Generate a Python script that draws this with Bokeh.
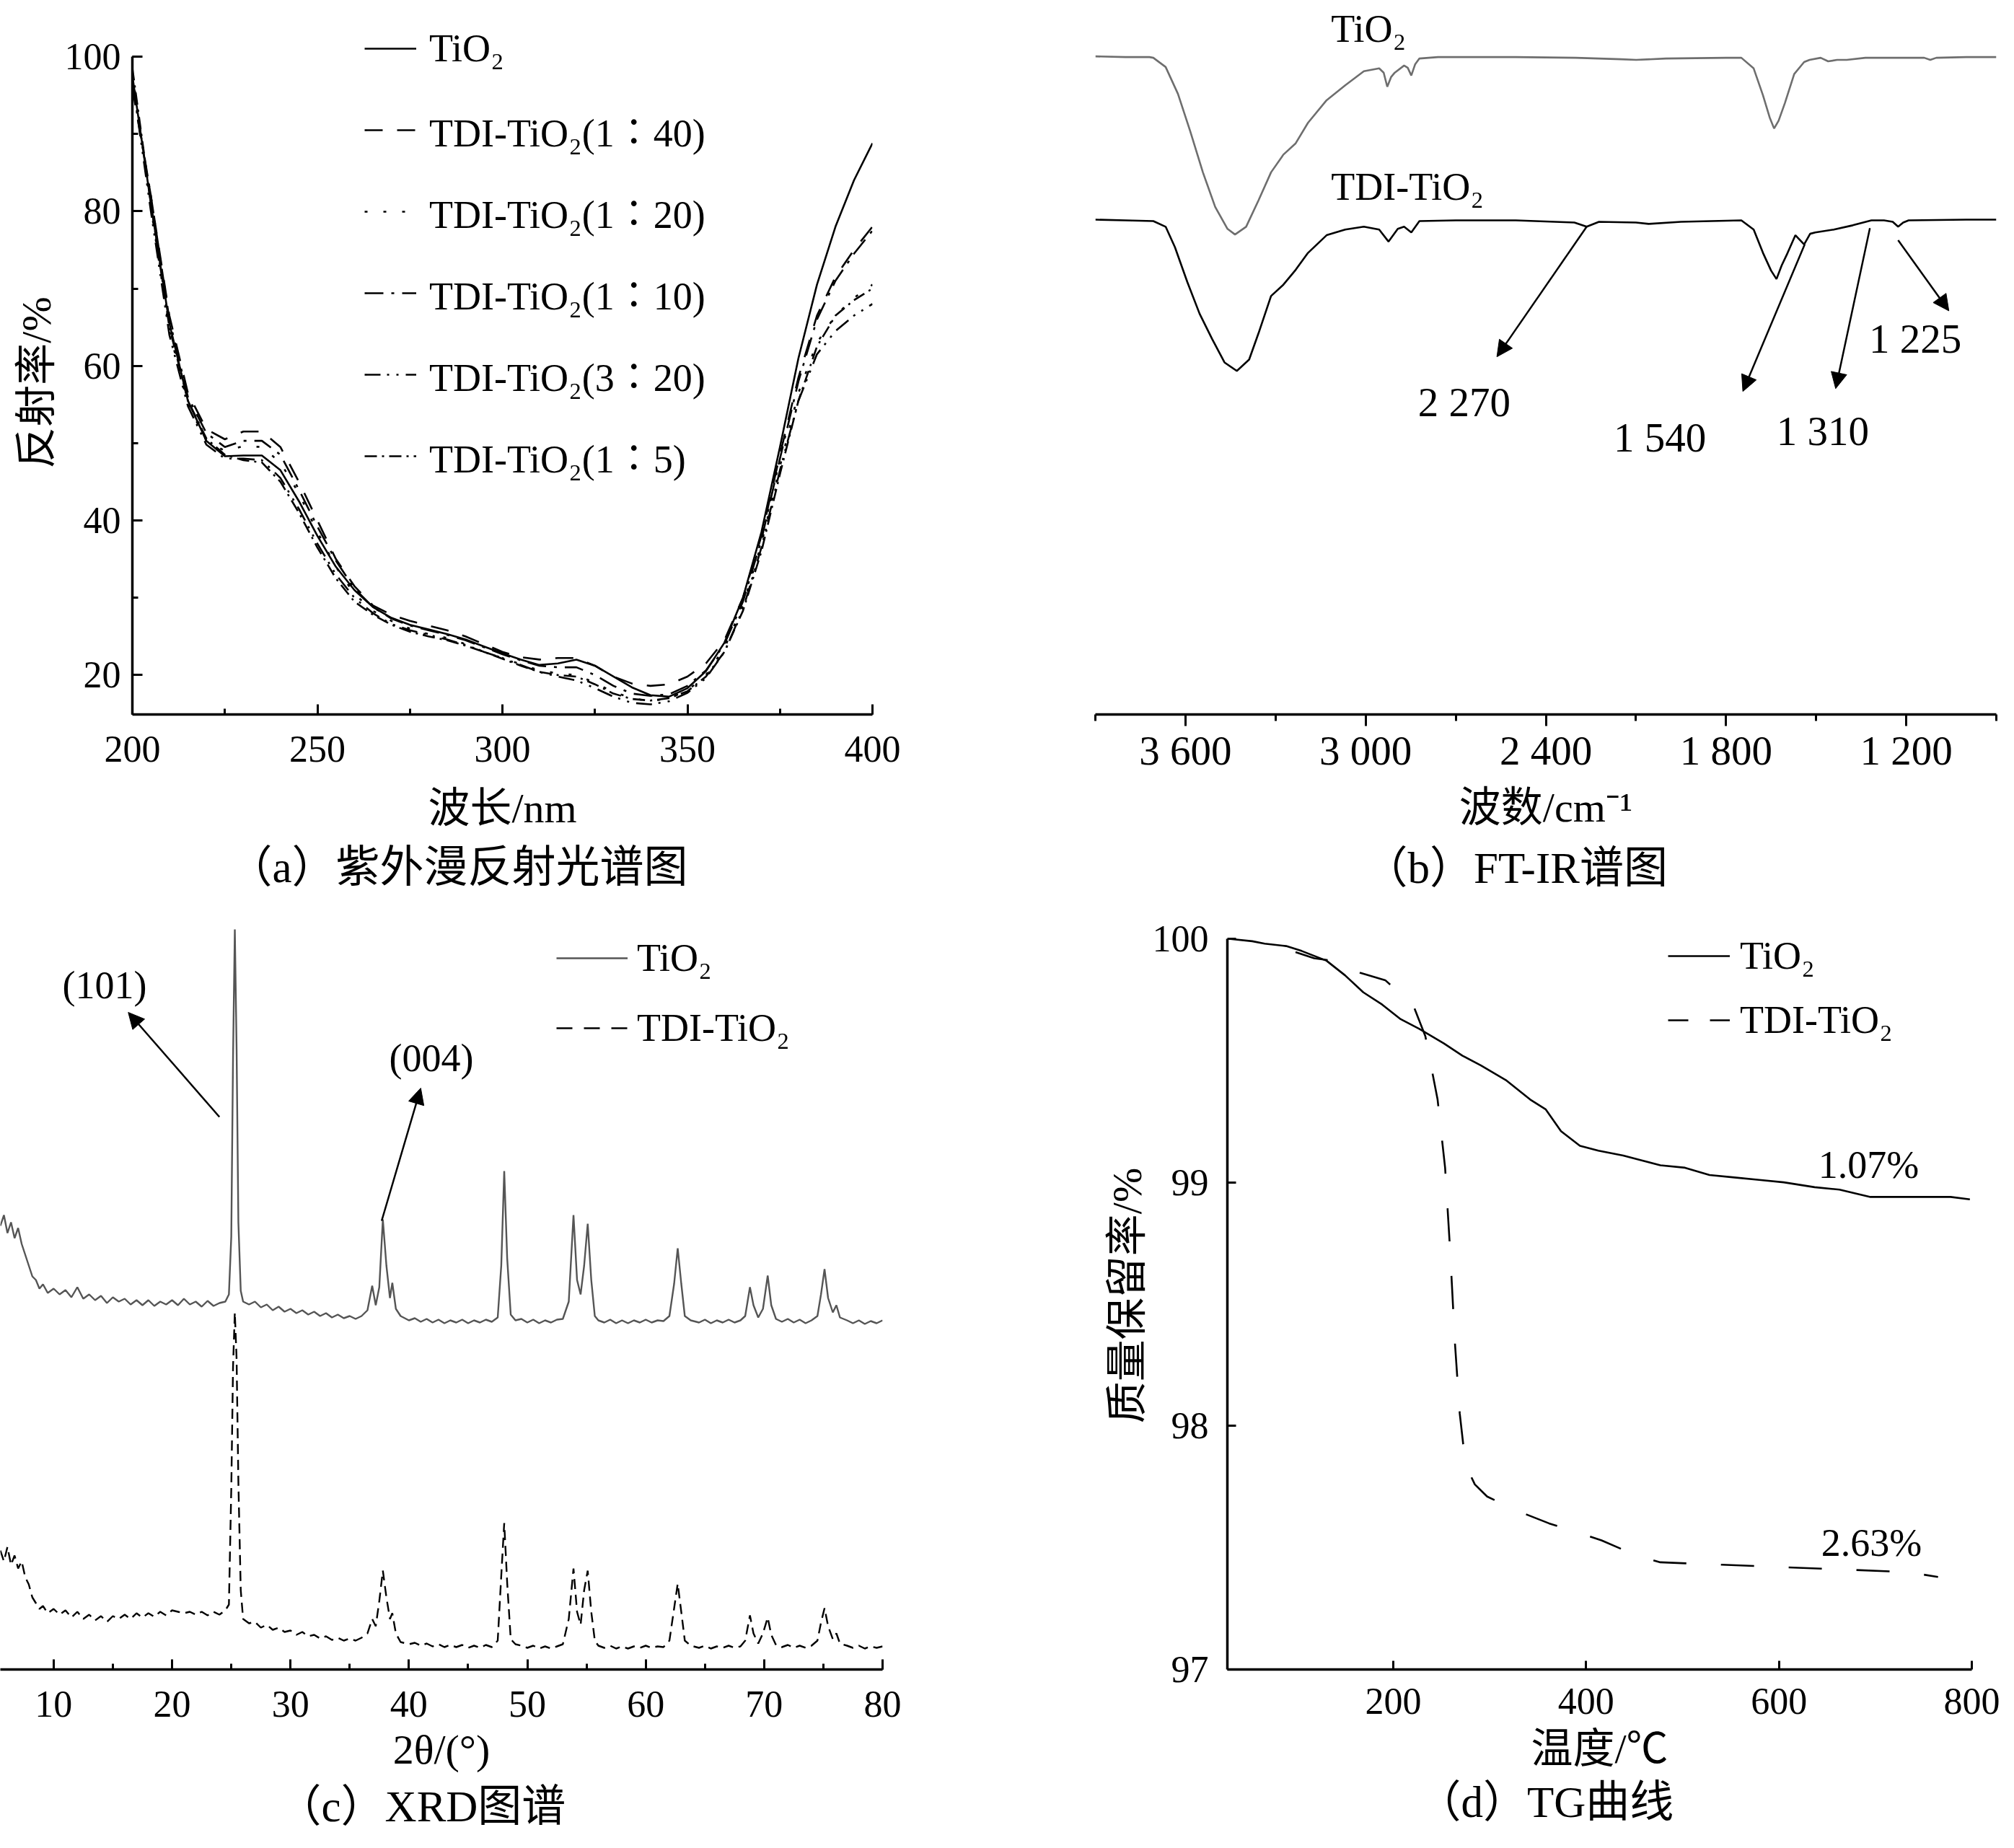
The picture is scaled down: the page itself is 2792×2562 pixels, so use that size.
from bokeh.plotting import figure
from bokeh.models import (Range1d, Legend, LegendItem, Label, Arrow, NormalHead, Title,
                          SingleIntervalTicker, FixedTicker, CustomJSTickFormatter)
from bokeh.layouts import column, row
from bokeh.embed import file_html
from bokeh.resources import INLINE

# ---------------- (a) UV diffuse reflectance ----------------
uv_wavelength = [200, 205, 210, 215, 220, 225, 230, 235, 240, 245, 250, 255, 260, 265, 270,
                 275, 280, 285, 290, 295, 300, 305, 310, 315, 320, 325, 330, 335, 340, 345,
                 350, 355, 360, 365, 370, 375, 380, 385, 390, 395, 400]
uv_tio2 = [97.5, 81, 65.5, 55.5, 50.3, 48.3, 48.4, 48.4, 46.5, 42.5, 38, 34, 31, 28.8, 27.4,
           26.5, 25.9, 25.3, 24.6, 23.7, 22.8, 22, 21.3, 21.5, 22, 21.2, 19.8, 18.4, 17.4, 17.2,
           18.3, 20.5, 24.2, 30, 38.5, 49.5, 61, 70.5, 78, 84, 88.8]
uv_1_40 = [96, 82, 66.5, 56.5, 51.8, 50.5, 51.5, 51.5, 49.5, 45, 40, 35, 31.5, 29, 27.8,
           27, 26.4, 25.8, 25, 24, 23, 22.3, 22, 22.2, 22.2, 21.2, 19.8, 18.9, 18.6, 18.8,
           19.8, 21.5, 24.5, 30, 38, 48.5, 58.5, 66.5, 71.5, 75, 78]
uv_1_20 = [98, 80.5, 64.5, 55, 50.3, 49, 49.6, 49.5, 47.5, 43.5, 38.5, 34, 30.5, 28.3, 27,
           26, 25.3, 24.8, 24, 23, 22.2, 21.4, 20.6, 20.2, 20, 19, 17.8, 17, 16.6, 17,
           18, 20, 23.5, 29, 37, 47, 56.5, 63, 66.5, 68.8, 70.5]
uv_1_10 = [96.5, 82, 66, 56, 51.3, 49.5, 50.3, 50.3, 48.5, 44, 39.2, 34.8, 31.2, 28.8, 27.3,
           26.4, 25.8, 25.2, 24.5, 23.6, 22.7, 21.9, 21.2, 21, 21, 20, 18.6, 17.6, 17.3, 17.5,
           18.6, 20.6, 24, 29.5, 37.5, 48, 58, 66, 71, 74.5, 77.5]
uv_3_20 = [97, 80, 64, 54.8, 49.8, 48, 48, 47.8, 45.5, 41.5, 37, 33, 30, 28, 26.6,
           25.8, 25.2, 24.6, 23.9, 23, 22.2, 21.3, 20.4, 19.8, 19.3, 18.3, 17.2, 16.4, 16.2, 16.6,
           17.7, 19.6, 23, 28.5, 36.5, 46.5, 55.5, 61.5, 64.5, 66.5, 68]
uv_1_5 = [98.5, 81, 65, 55.5, 50.6, 48.5, 47.8, 47.5, 45, 41, 36.5, 32.5, 29.5, 27.8, 26.5,
          25.6, 25, 24.5, 23.8, 23, 22.1, 21.2, 20.4, 20, 19.8, 18.8, 17.6, 16.9, 16.7, 17,
          17.9, 19.8, 23, 28.3, 36, 46, 55.5, 62.5, 66.5, 68.5, 70]
uv_names = ["TiO\u2082", "TDI-TiO\u2082(1\u223640)", "TDI-TiO\u2082(1\u223620)",
            "TDI-TiO\u2082(1\u223610)", "TDI-TiO\u2082(3\u223620)", "TDI-TiO\u2082(1\u22365)"]

# ---------------- (b) FT-IR ----------------
ir_wn_tio2 = [3900, 3800, 3720, 3707, 3666, 3625, 3584, 3542, 3501, 3460, 3435, 3398, 3357,
              3315, 3274, 3233, 3192, 3130, 3068, 3006, 2955, 2940, 2928, 2915, 2903, 2872,
              2860, 2848, 2835, 2821, 2759, 2500, 2300, 2150, 2099, 2000, 1800, 1749, 1708,
              1677, 1655, 1640, 1625, 1604, 1573, 1540, 1522, 1485, 1460, 1430, 1398, 1336,
              1200, 1140, 1120, 1100, 1000, 900]
ir_tio2 = [93.1, 93.0, 93.0, 92.9, 91.6, 87.8, 82.5, 76.7, 71.8, 68.7, 67.9, 69.0, 72.7,
           76.7, 79.2, 80.8, 83.7, 86.9, 89.0, 91.0, 91.4, 90.8, 88.8, 90.2, 90.8, 91.8,
           91.5, 90.4, 92.0, 92.8, 93.0, 93.0, 92.9, 92.7, 92.6, 92.8, 92.9, 92.9, 91.4,
           87.6, 84.5, 82.9, 84.0, 86.5, 90.6, 92.3, 92.6, 92.9, 92.4, 92.6, 92.6, 92.9,
           92.9, 92.9, 92.6, 92.9, 93.0, 93.0]
ir_wn_tdi = [3900, 3800, 3707, 3666, 3635, 3594, 3553, 3511, 3470, 3429, 3388, 3357, 3315,
             3274, 3233, 3192, 3130, 3068, 3006, 2955, 2924, 2893, 2872, 2848, 2821, 2700,
             2500, 2305, 2264, 2223, 2100, 2058, 1950, 1749, 1708, 1677, 1650, 1632, 1615,
             1595, 1569, 1540, 1520, 1503, 1441, 1378, 1316, 1274, 1245, 1227, 1210, 1192,
             1000, 900]
ir_tdi = [70.0, 69.9, 69.8, 69.0, 66.1, 61.2, 56.7, 53.1, 49.8, 48.6, 50.2, 53.9, 59.2,
          60.8, 62.9, 65.3, 67.8, 68.6, 69.0, 68.6, 66.9, 68.7, 69.0, 68.2, 69.8, 69.9,
          69.9, 69.6, 69.0, 69.7, 69.6, 69.4, 69.7, 69.9, 68.6, 65.3, 62.8, 61.6, 63.5,
          65.3, 67.8, 66.5, 68.0, 68.2, 68.6, 69.2, 69.9, 69.9, 69.7, 69.0, 69.6, 69.9,
          70.0, 70.0]
ir_peak_text = ["2 270", "1 540", "1 310", "1 225"]
ir_peak_wn = [2264, 1538, 1321, 1227]
ir_peak_val = [69.0, 66.5, 68.8, 67.1]
ir_arrow_end_wn = [2563, 1744, 1435, 1058]
ir_arrow_end_val = [50.6, 45.7, 46.1, 57.1]
ir_text_wn = [2672, 2020, 1478, 1170]
ir_text_val = [44.2, 39.2, 40.1, 53.2]

# ---------------- (c) XRD ----------------
xrd_2theta = [5.5, 5.8, 6.1, 6.4, 6.7, 7.0, 7.3, 7.6, 7.9, 8.2,
              8.5, 8.8, 9.1, 9.5, 10.0, 10.5, 11.0, 11.5, 12.0, 12.5,
              13.0, 13.5, 14.0, 14.5, 15.0, 15.5, 16.0, 16.5, 17.0, 17.5,
              18.0, 18.5, 19.0, 19.5, 20.0, 20.5, 21.0, 21.5, 22.0, 22.5,
              23.0, 23.5, 24.0, 24.5, 24.8, 25.0, 25.15, 25.3, 25.45, 25.6,
              25.8, 26.0, 26.5, 27.0, 27.5, 28.0, 28.5, 29.0, 29.5, 30.0,
              30.5, 31.0, 31.5, 32.0, 32.5, 33.0, 33.5, 34.0, 34.5, 35.0,
              35.5, 36.0, 36.5, 36.9, 37.2, 37.5, 37.8, 38.1, 38.4, 38.6,
              38.9, 39.3, 40.0, 40.5, 41.0, 41.5, 42.0, 42.5, 43.0, 43.5,
              44.0, 44.5, 45.0, 45.5, 46.0, 46.5, 47.0, 47.5, 47.8, 48.05,
              48.3, 48.6, 49.0, 49.5, 50.0, 50.5, 51.0, 51.5, 52.0, 52.5,
              53.0, 53.5, 53.9, 54.2, 54.5, 54.8, 55.1, 55.4, 55.7, 56.0,
              56.5, 57.0, 57.5, 58.0, 58.5, 59.0, 59.5, 60.0, 60.5, 61.0,
              61.5, 62.0, 62.4, 62.7, 63.0, 63.3, 63.8, 64.5, 65.0, 65.5,
              66.0, 66.5, 67.0, 67.5, 68.0, 68.4, 68.8, 69.1, 69.5, 69.9,
              70.3, 70.6, 71.0, 71.5, 72.0, 72.5, 73.0, 73.5, 74.0, 74.5,
              74.8, 75.1, 75.4, 75.8, 76.1, 76.4, 77.0, 77.5, 78.0, 78.5,
              79.0, 79.5, 80.0]
xrd_tio2 = [615, 630, 605, 620, 598, 612, 590, 575, 560, 545,
            540, 528, 534, 522, 528, 520, 526, 516, 530, 514,
            520, 512, 518, 508, 516, 510, 514, 506, 512, 505,
            512, 504, 510, 506, 512, 505, 514, 506, 510, 503,
            511, 504, 508, 510, 520, 600, 850, 1026, 860, 620,
            525, 510, 506, 510, 502, 506, 498, 503, 496, 500,
            494, 498, 492, 496, 490, 494, 488, 492, 487, 490,
            486, 490, 498, 532, 505, 530, 624, 560, 515, 536,
            500, 490, 484, 487, 482, 486, 481, 485, 480, 484,
            481, 485, 480, 484, 481, 485, 482, 488, 560, 691,
            570, 492, 484, 486, 481, 485, 480, 484, 481, 485,
            486, 510, 630, 540, 520, 560, 618, 540, 490, 484,
            481, 485, 480, 484, 480, 484, 481, 485, 481, 484,
            483, 490, 535, 584, 535, 490, 484, 481, 485, 480,
            484, 481, 485, 481, 484, 490, 530, 505, 488, 500,
            546, 505, 486, 482, 486, 481, 485, 480, 484, 490,
            520, 555, 515, 495, 505, 488, 484, 480, 484, 479,
            483, 480, 484]
xrd_tdi = [165, 150, 170, 145, 158, 140, 150, 128, 118, 100,
           92, 84, 88, 78, 84, 76, 82, 72, 80, 70,
           76, 68, 74, 66, 74, 70, 76, 70, 78, 72,
           78, 73, 80, 75, 82, 80, 78, 80, 76, 80,
           75, 80, 76, 82, 90, 250, 420, 495, 430, 260,
           110, 70, 64, 66, 58, 62, 55, 58, 52, 54,
           48, 52, 46, 48, 43, 46, 41, 44, 40, 43,
           40, 44, 50, 70, 60, 95, 137, 100, 70, 78,
           50, 38, 35, 37, 33, 36, 32, 35, 31, 34,
           31, 34, 30, 33, 30, 34, 31, 40, 130, 203,
           120, 42, 35, 33, 30, 33, 29, 32, 29, 32,
           35, 70, 140, 80, 62, 110, 137, 80, 40, 33,
           30, 33, 29, 32, 29, 32, 30, 33, 30, 32,
           31, 40, 85, 119, 80, 40, 33, 30, 33, 29,
           32, 30, 33, 30, 32, 40, 75, 50, 36, 50,
           72, 48, 34, 31, 34, 30, 33, 30, 33, 40,
           65, 85, 60, 42, 50, 36, 33, 30, 33, 29,
           32, 30, 32]
xrd_hkl_text = ["(101)", "(004)"]
xrd_hkl_tail_x = [24.0, 37.7]
xrd_hkl_tail_y = [766, 622]
xrd_hkl_head_x = [16.3, 41.0]
xrd_hkl_head_y = [911, 806]
xrd_hkl_text_x = [14.3, 41.9]
xrd_hkl_text_y = [949, 848]

# ---------------- (d) TG ----------------
tg_temp_tio2 = [29.5, 53.8, 66.7, 89, 105, 130.8, 150, 169, 188.5, 207.7, 227, 252.6, 271.8,
                291, 316.7, 342, 358, 374, 393.6, 412.8, 438.5, 457.7, 477, 502.6, 528, 553.8,
                579.5, 605, 637, 662.8, 694.9, 733, 778, 798]
tg_mass_tio2 = [100.0, 99.99, 99.98, 99.97, 99.95, 99.91, 99.85, 99.78, 99.73, 99.67, 99.63,
                99.57, 99.52, 99.48, 99.42, 99.34, 99.30, 99.21, 99.15, 99.13, 99.11, 99.09,
                99.07, 99.06, 99.03, 99.02, 99.01, 99.00, 98.98, 98.97, 98.94, 98.94, 98.94,
                98.93]
tg_temp_tdi = [98.7, 118, 137, 166, 191.7, 220.5, 233.3, 246, 253.8, 259, 264, 269, 275,
               284.6, 297.4, 329.5, 361.5, 393.6, 416, 451, 477, 541, 605, 669, 733, 765]
tg_mass_tdi = [99.945, 99.92, 99.91, 99.86, 99.83, 99.73, 99.60, 99.34, 99.06, 98.72, 98.34,
               98.05, 97.84, 97.76, 97.71, 97.65, 97.60, 97.56, 97.53, 97.47, 97.44, 97.43,
               97.42, 97.41, 97.40, 97.38]
tg_loss_text = ["1.07%", "2.63%"]
tg_loss_x = [693, 696]
tg_loss_y = [99.072, 97.52]

SERIF = "Liberation Serif"
MIX = "Liberation Serif, Noto Sans CJK SC"
TICK_FS = "52px"
TXT_FS = "54px"
AX_FS = "58px"
CAP_FS = "61px"


def make_fig(xr, yr, ml, mr, mt, mb, yaxis=True):
    p = figure(width=1388, height=1273, x_range=xr, y_range=yr, title=None,
               output_backend="svg", toolbar_location=None,
               min_border_left=ml, min_border_right=mr,
               min_border_top=mt, min_border_bottom=mb,
               y_axis_location="left" if yaxis else None)
    p.outline_line_color = None
    p.xgrid.visible = False
    p.ygrid.visible = False
    p.background_fill_color = "white"
    p.border_fill_color = "white"
    return p


def style_axis(ax, tin, tout, standoff, label, label_standoff, minor=True, bounds=None,
               tick_fs=TICK_FS):
    ax.axis_line_color = "black"
    ax.axis_line_width = 3.5
    ax.major_tick_line_color = "black"
    ax.major_tick_line_width = 3
    ax.major_tick_in = tin
    ax.major_tick_out = tout
    if minor:
        ax.minor_tick_line_color = "black"
        ax.minor_tick_line_width = 3
        ax.minor_tick_in = int(tin * 0.6)
        ax.minor_tick_out = int(tout * 0.6)
    else:
        ax.minor_tick_line_color = None
    ax.major_label_text_font = SERIF
    ax.major_label_text_font_size = tick_fs
    ax.major_label_text_color = "black"
    ax.major_label_standoff = standoff
    ax.axis_label = label
    ax.axis_label_text_font = MIX
    ax.axis_label_text_font_size = AX_FS
    ax.axis_label_text_font_style = "normal"
    ax.axis_label_text_color = "black"
    ax.axis_label_standoff = label_standoff
    if bounds is not None:
        ax.bounds = bounds


def caption(p, text, offset, standoff):
    p.add_layout(Title(text=text, align="left", offset=offset, standoff=standoff,
                       text_font=MIX, text_font_size=CAP_FS, text_font_style="normal",
                       text_color="black"), "below")


def lab(p, x, y, text, size=TXT_FS, font=MIX, align="center"):
    p.add_layout(Label(x=x, y=y, text=text, text_font=font, text_font_size=size,
                       text_align=align, text_baseline="middle", text_color="black"))


def make_legend(items, loc, spacing, gw, h, standoff):
    return Legend(items=items, location=loc, orientation="vertical", padding=0,
                  spacing=spacing, glyph_width=gw, glyph_height=h, label_height=h,
                  label_standoff=standoff, label_text_font=MIX, label_text_font_size=TXT_FS,
                  label_text_color="black", border_line_color=None,
                  background_fill_alpha=0)


# ================= panel (a) =================
pa = make_fig(Range1d(200, 400), Range1d(14.9, 106.16), 183, 179, 12, 283)
pa.xaxis.ticker = SingleIntervalTicker(interval=50, num_minor_ticks=2)
pa.yaxis.ticker = SingleIntervalTicker(interval=20, num_minor_ticks=2)
style_axis(pa.xaxis[0], 14, 0, 30, "波长/nm", 29)
style_axis(pa.yaxis[0], 14, 0, 16, "反射率/%\u2002\u2002", 4, bounds=(14.9, 100))
uv_series = [uv_tio2, uv_1_40, uv_1_20, uv_1_10, uv_3_20, uv_1_5]
uv_dash = ["solid", "25 20", "4 22", "26 11 4 11", "22 9 3 10 3 10", "17 7 3 7"]
items = []
for name, ys, dash in zip(uv_names, uv_series, uv_dash):
    r = pa.line(uv_wavelength, ys, line_color="black", line_width=2.6, line_dash=dash)
    items.append(LegendItem(label=name, renderers=[r]))
pa.add_layout(make_legend(items, (322, 319), 34, 72, 78, 18), "center")
caption(pa, "（a）紫外漫反射光谱图", 133, 23)

# ================= panel (b) =================
pb = make_fig(Range1d(3900, 900), Range1d(0, 99.8), 130, 9, 12, 283, yaxis=False)
pb.xaxis.ticker = SingleIntervalTicker(interval=600, num_minor_ticks=2)
pb.xaxis.formatter = CustomJSTickFormatter(code="""
const t = Math.round(tick);
if (t >= 1000) { return Math.floor(t / 1000) + ' ' + String(t % 1000).padStart(3, '0'); }
return String(t);
""")
style_axis(pb.xaxis[0], 0, 16, 2, "波数/cm\u207b\u00b9", 12, tick_fs="57px")
pb.line(ir_wn_tio2, ir_tio2, line_color="#6e6e6e", line_width=2.6)
pb.line(ir_wn_tdi, ir_tdi, line_color="black", line_width=2.6)
lab(pb, 3115, 97.0, "TiO\u2082", align="left")
lab(pb, 3115, 74.6, "TDI-TiO\u2082", align="left")
for i in range(len(ir_peak_text)):
    pb.add_layout(Arrow(end=NormalHead(size=22, fill_color="black", line_color="black"),
                        x_start=ir_peak_wn[i], y_start=ir_peak_val[i],
                        x_end=ir_arrow_end_wn[i], y_end=ir_arrow_end_val[i],
                        line_color="black", line_width=2.5))
    lab(pb, ir_text_wn[i], ir_text_val[i], ir_peak_text[i], size="57px")
caption(pb, "（b）FT-IR谱图", 372, 27)

# ================= panel (c) =================
pc = make_fig(Range1d(5.5, 80), Range1d(0, 1037), 0, 165, 4, 232, yaxis=False)
pc.xaxis.ticker = SingleIntervalTicker(interval=10, num_minor_ticks=2)
style_axis(pc.xaxis[0], 14, 0, 30, "2θ/(°)", 10)
rc1 = pc.line(xrd_2theta, xrd_tio2, line_color="#555555", line_width=2.4)
rc2 = pc.line(xrd_2theta, xrd_tdi, line_color="black", line_width=2.4, line_dash="14 8")
# legend key only (zero-length line on the first data point) with the key's dash pattern
rc2_key = pc.line([xrd_2theta[0], xrd_2theta[0]], [xrd_tdi[0], xrd_tdi[0]],
                  line_color="black", line_width=2.4, line_dash="22 16")
pc.add_layout(make_legend([LegendItem(label="TiO\u2082", renderers=[rc1]),
                           LegendItem(label="TDI-TiO\u2082", renderers=[rc2_key])],
                          (771, 857), 33, 99, 64, 13), "center")
for i in range(len(xrd_hkl_text)):
    pc.add_layout(Arrow(end=NormalHead(size=22, fill_color="black", line_color="black"),
                        x_start=xrd_hkl_tail_x[i], y_start=xrd_hkl_tail_y[i],
                        x_end=xrd_hkl_head_x[i], y_end=xrd_hkl_head_y[i],
                        line_color="black", line_width=2.5))
    lab(pc, xrd_hkl_text_x[i], xrd_hkl_text_y[i], xrd_hkl_text[i])
caption(pc, "（c）XRD图谱", 384, 17)

# ================= panel (d) =================
pd = make_fig(Range1d(28, 800), Range1d(97, 100.071), 313, 43, 4, 232)
pd.xaxis.ticker = FixedTicker(ticks=[200, 400, 600, 800])
pd.yaxis.ticker = FixedTicker(ticks=[97, 98, 99, 100])
style_axis(pd.xaxis[0], 12, 0, 26, "温度/℃", 13, minor=False)
style_axis(pd.yaxis[0], 12, 0, 26, "质量保留率/%", 0, minor=False, bounds=(97, 100))
rd1 = pd.line(tg_temp_tio2, tg_mass_tio2, line_color="black", line_width=2.6)
rd2 = pd.line(tg_temp_tdi, tg_mass_tdi, line_color="black", line_width=2.6, line_dash="46 48")
rd2_key = pd.line([tg_temp_tdi[0], tg_temp_tdi[0]], [tg_mass_tdi[0], tg_mass_tdi[0]],
                  line_color="black", line_width=2.6, line_dash="28 30")
pd.add_layout(make_legend([LegendItem(label="TiO\u2082", renderers=[rd1]),
                           LegendItem(label="TDI-TiO\u2082", renderers=[rd2_key])],
                          (611, 868), 25, 86, 64, 14), "center")
for i in range(len(tg_loss_text)):
    lab(pd, tg_loss_x[i], tg_loss_y[i], tg_loss_text[i])
caption(pd, "（d）TG曲线", 263, 6)

layout = column(row(pa, pb), row(pc, pd))
open("out.html", "w").write(file_html(layout, INLINE))
